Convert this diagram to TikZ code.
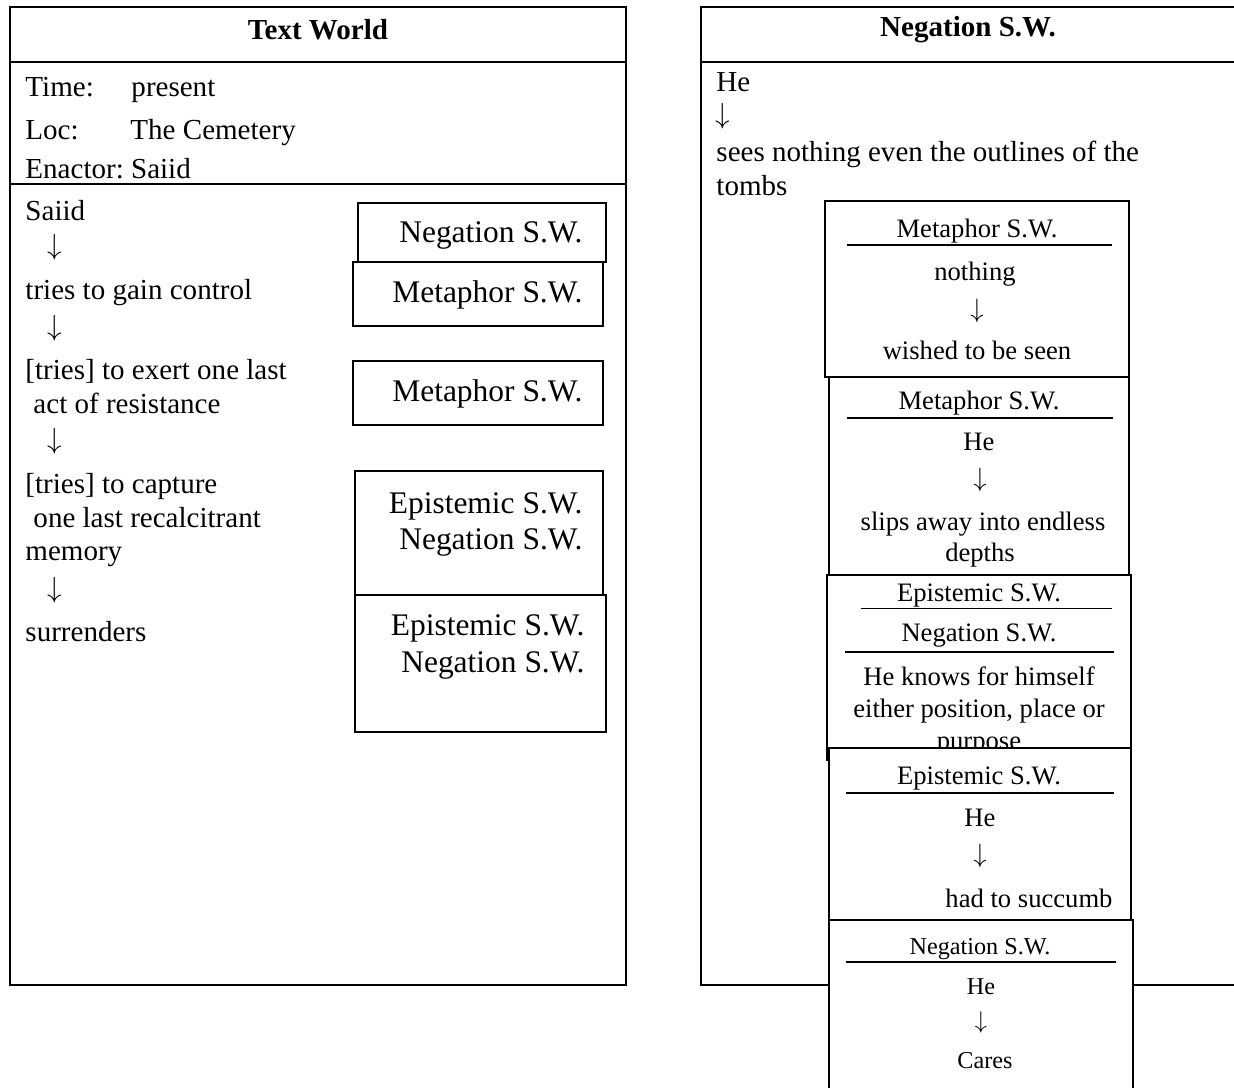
\documentclass[tikz,border=0pt]{standalone}
\usepackage{fontspec}
\setmainfont{Liberation Serif}
\usetikzlibrary{positioning}
\frenchspacing

\begin{document}
\begin{tikzpicture}[x=0.4133pt, y=-0.4133pt,
    frame/.style={line width=0.8pt},
    swbox/.style={draw, line width=0.6pt, fill=white},
    rulebar/.style={line width=0.6pt},
    heading/.style={inner sep=0pt, yshift=-0.6pt, font=\bfseries\fontsize{12}{14}\selectfont},
    txt/.style={inner sep=0pt, anchor=mid west, yshift=-1.4pt, font=\fontsize{12}{14}\selectfont},
    swtag/.style={inner sep=0pt, anchor=mid east, yshift=-1.6pt, font=\fontsize{13}{15}\selectfont},
    boxtxt/.style={inner sep=0pt, anchor=mid, yshift=-1.3pt, font=\fontsize{11}{13}\selectfont},
    smalltxt/.style={inner sep=0pt, anchor=mid, yshift=-1.2pt, font=\fontsize{10}{12}\selectfont}
]
    \useasboundingbox (0,0) rectangle (1234,1088);

    % Text World
    \draw[frame] (10,7) rectangle (626,985);
    \draw[frame] (10,62) -- (626,62);
    \draw[frame] (10,184) -- (626,184);
    \node[heading] (twtitle) at (318,28) {Text World};
    \node[txt] (time)    at (25,88)  {Time:};
    \node[txt] (timeval) at (131,88) {present};
    \node[txt] (loc)     at (25,131) {Loc:};
    \node[txt] (locval)  at (130,131) {The Cemetery};
    \node[txt] (enactor) at (25,170) {Enactor: Saiid};

    \node[txt] (saiid)    at (25,212) {Saiid};
    \node[txt] (down1)    at (47,246) {$\downarrow$};
    \node[txt] (gain)     at (25,291) {tries to gain control};
    \node[txt] (down2)    at (47,327) {$\downarrow$};
    \node[txt] (exert)    at (25,371) {[tries] to exert one last};
    \node[txt] (resist)   at (33,405) {act of resistance};
    \node[txt] (down3)    at (47,440) {$\downarrow$};
    \node[txt] (capture)  at (25,485) {[tries] to capture};
    \node[txt] (recalc)   at (33,519) {one last recalcitrant};
    \node[txt] (memory)   at (25,552) {memory};
    \node[txt] (down4)    at (47,589) {$\downarrow$};
    \node[txt] (surr)     at (25,633) {surrenders};

    \draw[swbox] (358,203) rectangle (606,262);
    \node[swtag] (negA) at (583,233) {Negation S.W.};
    \draw[swbox] (353,262) rectangle (603,326);
    \node[swtag] (metA) at (583,293) {Metaphor S.W.};
    \draw[swbox] (353,361) rectangle (603,425);
    \node[swtag] (metB) at (583,392) {Metaphor S.W.};
    \draw[swbox] (355,471) rectangle (603,595);
    \node[swtag] (epiA) at (583,504) {Epistemic S.W.};
    \node[swtag] (negB) at (583,540) {Negation S.W.};
    \draw[swbox] (355,595) rectangle (606,732);
    \node[swtag] (epiB) at (585,626) {Epistemic S.W.};
    \node[swtag] (negC) at (585,663) {Negation S.W.};

    % Negation S.W.
    \draw[frame] (701,7) rectangle (1240,985);
    \draw[frame] (701,62) -- (1240,62);
    \node[heading] (negtitle) at (968,28) {Negation S.W.};
    \node[txt] (he)     at (716,83)  {He};
    \node[txt] (down5)  at (715,115) {$\downarrow$};
    \node[txt] (sees)   at (716,153) {sees nothing even the outlines of the};
    \node[txt] (tombs)  at (716,187) {tombs};

    % stacked sub-worlds
    \draw[swbox] (825,201) rectangle (1129,377);
    \node[boxtxt] (m1tag)   at (977,229) {Metaphor S.W.};
    \draw[rulebar] (847,245) -- (1112,245);
    \node[boxtxt] (nothing) at (975,272) {nothing};
    \node[boxtxt] (m1down)  at (977,309) {$\downarrow$};
    \node[boxtxt] (wished)  at (977,351) {wished to be seen};

    \draw[swbox] (829,377) rectangle (1129,575);
    \node[boxtxt] (m2tag)   at (979,401) {Metaphor S.W.};
    \draw[rulebar] (847,418) -- (1113,418);
    \node[boxtxt] (m2he)    at (979,442) {He};
    \node[boxtxt] (m2down)  at (980,478) {$\downarrow$};
    \node[boxtxt] (slips)   at (983,522) {slips away into endless};
    \node[boxtxt] (depths)  at (980,553) {depths};

    \draw[swbox] (827,575) rectangle (1131,760);
    \node[boxtxt] (e1tag)   at (979,593) {Epistemic S.W.};
    \draw[line width=0.4pt] (861,608) -- (1112,608);
    \node[boxtxt] (n1tag)   at (979,633) {Negation S.W.};
    \draw[rulebar] (845,652) -- (1114,652);
    \node[boxtxt] (knows)   at (979,677) {He knows for himself};
    \node[boxtxt] (either)  at (979,709) {either position, place or};
    \node[boxtxt] (purpose) at (979,741) {purpose};

    \draw[swbox] (829,748) rectangle (1131,920);
    \node[boxtxt] (e2tag)   at (979,776) {Epistemic S.W.};
    \draw[rulebar] (846,793) -- (1114,793);
    \node[boxtxt] (e2he)    at (980,818) {He};
    \node[boxtxt] (e2down)  at (980,854) {$\downarrow$};
    \node[boxtxt] (succumb) at (1029,899) {had to succumb};

    \draw[swbox] (829,920) rectangle (1133,1100);
    \node[smalltxt] (n2tag) at (980,946) {Negation S.W.};
    \draw[rulebar] (846,962) -- (1116,962);
    \node[smalltxt] (n2he)   at (981,986)  {He};
    \node[smalltxt] (n2down) at (981,1020) {$\downarrow$};
    \node[smalltxt] (cares)  at (985,1060) {Cares};
\end{tikzpicture}
\end{document}
